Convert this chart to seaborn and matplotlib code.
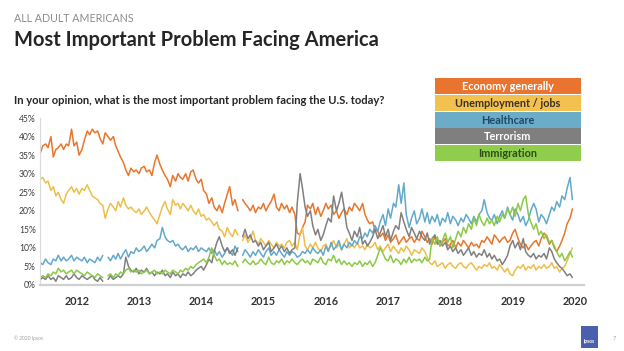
import numpy as np
import pandas as pd
import matplotlib
matplotlib.use('Agg')
import matplotlib.pyplot as plt
from matplotlib.patches import Rectangle
import seaborn as sns

nan = np.nan

# semi-monthly poll readings, Dec 2011 - Jun 2020 (one row per year)
dates = pd.date_range('2011-12-01', periods=206, freq='SMS')

economy = (
    [35.5, 37.5] +
    [38, 37, 40, 34.5, 36.5, 37, 38, 36.5, 38, 37.5, 42, 37.5, 38.5, 35, 36.5, 39, 41.5, 40.5, 42, 41, 41.5, 39.5, 38, 41] +
    [40, 39, 40, 37.5, 36, 34.5, 33, 31, 29.5, 31.5, 30.5, 31, 30, 31.5, 32, 30.5, 31, 29.5, 33, 35, 32.5, 31, 29.5, 28.5] +
    [26.5, 29.5, 28, 30, 29, 28.5, 30, 28, 30.5, 31, 28.5, 27.5, 28.5, 25.5, 24.5, 22, 23.5, 21, 20, 21.5, 19.5, 22, 24.5, 26.5] +
    [21.5, 23, 20, nan, 23, 22, 21, 20, 21.5, 19.5, 21, 20.5, 22, 20, 21.5, 22.5, 24.5, 21, 20, 22, 20.5, 21.5, 19.5, 21] +
    [19, 14, 13.5, 15.5, 17, 21.5, 20.5, 22, 19, 21, 18.5, 20, 22, 20.5, 21.5, 19, 20, 18, 19.5, 20.5, 19, 21, 20, 22] +
    [21, 20, 22, 19, 17.5, 16.5, 17, 15, 14.5, 13, 14, 12, 13.5, 11.5, 12.5, 13.5, 11, 12, 13, 11.5, 12.5, 13, 11.5, 12.5] +
    [12, 14.5, 13, 11.5, 12.5, 11, 13, 12, 10.5, 11.5, 12.5, 10.5, 11, 12, 10, 11.5, 10.5, 12, 11, 10, 11.5, 10.5, 11, 10] +
    [12, 11.5, 13, 12, 11, 13.5, 12.5, 11.5, 12.5, 13, 11.5, 12, 14, 15, 12.5, 11, 10, 11, 9.5, 10.5, 11.5, 12, 10.5, 12.5] +
    [14, 13, 11, 12, 10, 9, 10.5, 12, 14, 16.5, 18, 20.5]
)

unemployment = (
    [28.5, 29] +
    [27.5, 28, 25.5, 26.5, 24, 25, 23, 22, 24.5, 25.5, 26.5, 25, 26, 24.5, 26, 25.5, 27, 25.5, 24, 23.5, 23, 22, 21.5, 18] +
    [20.5, 22, 21, 20, 22.5, 21, 23.5, 21.5, 20.5, 21, 20, 19.5, 20.5, 19, 20, 21, 19.5, 18.5, 17.5, 16.5, 19, 21, 22.5, 20.5] +
    [19, 23, 21.5, 22, 20.5, 22, 21, 20, 21.5, 20, 19, 20.5, 18.5, 19, 17.5, 18, 17, 16, 17, 15, 14.5, 13, 15.5, 14] +
    [13, 15, 13.5, nan, 12, 13.5, 11.5, 12.5, 14.5, 12, 11, 12.5, 11.5, 10.5, 12, 11, 10, 11.5, 10.5, 11, 10, 11.5, 12, 10.5] +
    [11.5, 9.5, 14, 15.5, 10.5, 9.5, 11, 10, 11.5, 10, 9, 10.5, 11, 9.5, 10.5, 12, 10, 11, 9.5, 11, 12.5, 10, 11, 10] +
    [11.5, 10, 10.5, 9.5, 11, 10, 10.5, 11.5, 9.5, 10.5, 9, 10, 11, 9, 10.5, 9.5, 8.5, 10, 9, 10.5, 9.5, 8, 9.5, 9] +
    [8.5, 10, 9, 7.5, 6, 5.5, 6.5, 5, 5.5, 6, 4.5, 5.5, 6, 5, 4.5, 5.5, 6, 5, 4.5, 5.5, 6, 5, 4, 5] +
    [4.5, 5.5, 5, 6, 4.5, 5, 4, 5.5, 4.5, 3.5, 4.5, 3, 2.5, 4, 5, 4.5, 5.5, 4, 5, 4.5, 5.5, 4, 5, 4.5] +
    [5.5, 4.5, 5, 6, 4.5, 5, 3.5, 4.5, 5, 6.5, 8.5, 10]
)

healthcare = (
    [6, 5.5] +
    [7, 6, 5.5, 7, 6.5, 8, 6.5, 7.5, 6.5, 7, 8, 6.5, 7.5, 7, 6.5, 7.5, 6, 7, 6.5, 6, 7.5, 6.5, 8, nan] +
    [7.5, 6.5, 8, 7, 8.5, 7, 8.5, 9.5, 7.5, 9, 8.5, 10, 9, 9.5, 10.5, 9, 10, 11, 10, 12, 12.5, 15.5, 13, 12] +
    [11.5, 12, 10.5, 11, 10, 9.5, 10.5, 9, 10, 9.5, 10.5, 9, 10, 9.5, 9, 10, 8.5, 9.5, 8, 9, 7.5, 8.5, 10, 9] +
    [8, 10.5, 9, nan, 8, 9.5, 8.5, 7.5, 9, 8, 9.5, 8.5, 7.5, 9, 10, 8, 9, 8, 9.5, 8.5, 7.5, 9, 8, 9] +
    [8.5, 7.5, 8, 9, 8.5, 9.5, 8.5, 10, 9, 8.5, 9.5, 8, 10.5, 9, 11.5, 9.5, 10.5, 12, 9.5, 11, 10, 11.5, 10.5, 12] +
    [11, 13, 12.5, 14, 13, 15, 14, 16, 14.5, 17, 19, 16, 20.5, 18, 22, 21, 27, 22, 27.5, 19, 15.5, 18, 20, 16.5] +
    [18, 20.5, 17, 19.5, 16.5, 18.5, 17, 19, 16, 18, 17, 19.5, 16.5, 18.5, 17.5, 16, 18, 17, 19, 18, 16.5, 18.5, 17, 19] +
    [20, 23, 19.5, 18, 17.5, 19, 16.5, 18.5, 20, 18, 21, 19, 17.5, 20.5, 19, 17, 18.5, 16, 17.5, 20, 22, 20.5, 17, 19] +
    [18, 16.5, 19, 21, 20, 22.5, 21, 24, 23, 26, 29, 23]
)

terrorism = (
    [1.5, 2] +
    [1.5, 2.5, 1.5, 2, 1, 2.5, 2, 1.5, 2.5, 1.5, 2, 3, 2, 1.5, 2.5, 2, 1.5, 2, 2.5, 1.5, 1, 2, 1, nan] +
    [1.5, 2.5, 1.5, 2, 2.5, 2, 3, 7.5, 5, 4, 3.5, 4.5, 3, 4, 3.5, 4.5, 3, 3.5, 2.5, 3.5, 3, 4, 2.5, 3] +
    [2, 3.5, 2.5, 3, 2, 3, 2.5, 3.5, 2.5, 3, 4, 4.5, 5, 4, 5.5, 7, 6, 9, 11.5, 13, 10.5, 9, 10, 8.5] +
    [9.5, 8, 10, nan, 13, 15, 12.5, 13.5, 11.5, 12, 10.5, 11.5, 9.5, 10.5, 11.5, 9, 10, 11, 9.5, 10.5, 9, 10, 8.5, 9.5] +
    [10, 22, 30, 26, 21, 18.5, 20, 16, 13.5, 15, 12, 13.5, 16, 18, 17, 24, 20, 22, 25, 21, 15.5, 14, 12, 14.5] +
    [13, 15.5, 11, 12, 10.5, 11.5, 13, 15, 12.5, 14, 16, 13, 15, 12, 14.5, 16, 15, 19.5, 17, 15, 13, 15.5, 14, 12.5] +
    [14.5, 13, 12, 14, 11, 12.5, 13.5, 11, 12, 10.5, 11.5, 9.5, 10.5, 9, 10, 8.5, 9.5, 8, 9, 10, 8, 9, 7.5, 8.5] +
    [8, 9.5, 7.5, 8.5, 7, 8, 6.5, 7, 5.5, 6.5, 8, 10.5, 12, 10, 11.5, 9.5, 12.5, 9, 8, 7.5, 8.5, 7, 8, 7.5] +
    [8.5, 7, 10, 9, 7, 6, 5, 4.5, 3.5, 2.5, 3, 2]
)

immigration = (
    [2, 2.5] +
    [2, 3, 2.5, 3.5, 3, 4.5, 3.5, 4, 3, 3.5, 4, 3, 4, 3.5, 3, 2.5, 3.5, 3, 2.5, 2, 3, 2.5, 2, nan] +
    [2.5, 3, 2, 3, 2.5, 3.5, 3, 4, 4.5, 3.5, 4, 3.5, 4, 3, 3.5, 4, 3, 3.5, 4, 3, 3.5, 3, 4, 3.5] +
    [3, 4, 3.5, 3, 4, 3.5, 4.5, 4, 5, 4.5, 5.5, 6, 6.5, 7, 6, 7.5, 10, 8, 6.5, 7, 5.5, 6.5, 5.5, 6] +
    [5.5, 6.5, 5, nan, 6, 7, 6, 5.5, 6.5, 5.5, 6, 7, 6, 5.5, 7.5, 6, 5.5, 6.5, 6, 7, 5.5, 6.5, 6, 7] +
    [6, 5.5, 6.5, 7, 6, 6.5, 5.5, 7, 6.5, 6, 7.5, 6, 5.5, 7, 6.5, 8, 6, 7, 5.5, 6.5, 5.5, 6, 5, 6] +
    [5.5, 6.5, 5, 6, 5.5, 6.5, 5, 6, 8, 10, 8.5, 7, 6.5, 8, 6, 7, 6.5, 5.5, 7, 6, 7.5, 6, 7, 6.5] +
    [7, 6, 7.5, 6.5, 7, 12.5, 11, 13, 10.5, 12, 14, 11.5, 13, 10, 12.5, 14.5, 13, 15.5, 14, 16.5, 15, 18, 16, 19] +
    [17, 16, 18, 16.5, 17.5, 16, 18.5, 17, 19, 18, 20.5, 19, 21, 18.5, 22, 20, 23, 24, 19, 17, 15, 16.5, 13.5, 14.5] +
    [12.5, 13.5, 11.5, 12, 10.5, 9, 7.5, 8.5, 6.5, 7.5, 9, 7.5]
)

problems = ['Economy generally', 'Unemployment / jobs', 'Healthcare', 'Terrorism', 'Immigration']
line_colors = ['#E8762B', '#EEBE4A', '#62A9CB', '#808080', '#8CC947']
box_colors = ['#E8742F', '#F2C14F', '#6BADC9', '#7F7F7F', '#8ECE4C']
box_text_colors = ['white', '#3A3226', '#1E4966', 'white', '#2E4D18']
years = list(range(2012, 2021))
y_ticks = list(range(0, 50, 5))

# long table, with a segment id so gaps in the polling stay as gaps
frames = []
for name, vals in zip(problems, [economy, unemployment, healthcare, terrorism, immigration]):
    v = pd.Series(vals, index=dates, dtype=float)
    seg = v.isna().cumsum()
    part = pd.DataFrame({'date': dates, 'pct': v.values, 'problem': name,
                         'unit': name + seg.astype(str).values})
    frames.append(part.dropna())
data = pd.concat(frames, ignore_index=True)

sns.set_style('white')
plt.rcParams['font.family'] = ['Lato', 'DejaVu Sans']

W, H = 624, 351
fig = plt.figure(figsize=(W / 100, H / 100), dpi=100)
ax = fig.add_axes([40 / W, 1 - 285 / H, (584 - 40) / W, (285 - 118) / H])

sns.lineplot(data=data, x='date', y='pct', hue='problem', units='unit', estimator=None,
             hue_order=problems, palette=dict(zip(problems, line_colors)),
             linewidth=1.1, legend=False, ax=ax)

ax.set_xlim(pd.Timestamp('2011-11-29'), pd.Timestamp('2020-08-22'))
ax.set_ylim(0, 45)
ax.set_xticks([pd.Timestamp(f'{y}-07-01') for y in years])
ax.set_xticklabels([str(y) for y in years], fontsize=7.8, fontweight='bold', color='#333333')
ax.set_yticks(y_ticks)
ax.set_yticklabels([f'{v}%' for v in y_ticks], fontsize=6.2, color='#404040')
ax.tick_params(axis='x', length=0, pad=8)
ax.tick_params(axis='y', length=0, pad=3)
ax.set_xlabel('')
ax.set_ylabel('')
for s in ['top', 'right']:
    ax.spines[s].set_visible(False)
ax.spines['left'].set_color('#DADADA')
ax.spines['left'].set_linewidth(0.8)
ax.spines['bottom'].set_color('#D0D0D0')
ax.spines['bottom'].set_linewidth(1.6)

# headings
fig.text(14 / W, 1 - 19 / H, 'ALL ADULT AMERICANS', fontsize=7.7, color='#8C8C8C', va='center')
fig.text(14 / W, 1 - 40 / H, 'Most Important Problem Facing America', fontsize=14.5,
         fontweight='bold', color='#262626', va='center')
fig.text(14 / W, 1 - 101 / H,
         'In your opinion, what is the most important problem facing the U.S. today?',
         fontsize=8.1, fontweight='bold', color='#262626', va='center')

# legend as stacked colour bars
top, row_h = 78.3, 16.7
for i, (name, bc, tc) in enumerate(zip(problems, box_colors, box_text_colors)):
    y0 = top + i * row_h
    fig.patches.append(Rectangle((435 / W, 1 - (y0 + row_h - 0.8) / H), 146 / W, (row_h - 0.8) / H,
                                 transform=fig.transFigure, facecolor=bc, edgecolor='none'))
    fig.text(508 / W, 1 - (y0 + row_h / 2) / H, name, fontsize=7.8, fontweight='bold',
             color=tc, ha='center', va='center')

# footer
fig.text(14 / W, 1 - 338 / H, '© 2020 Ipsos', fontsize=3.5, color='#A0A0A0', va='center')
fig.patches.append(Rectangle((581 / W, 1 - 348 / H), 17 / W, 22 / H, transform=fig.transFigure,
                             facecolor='#4A5FAE', edgecolor='none'))
fig.text(589.5 / W, 1 - 342 / H, 'Ipsos', fontsize=3.5, fontweight='bold', color='white',
         ha='center', va='center')
fig.text(613 / W, 1 - 338 / H, '7', fontsize=4, color='#A0A0A0', va='center')

fig.savefig('out.png', dpi=100, facecolor='white')
